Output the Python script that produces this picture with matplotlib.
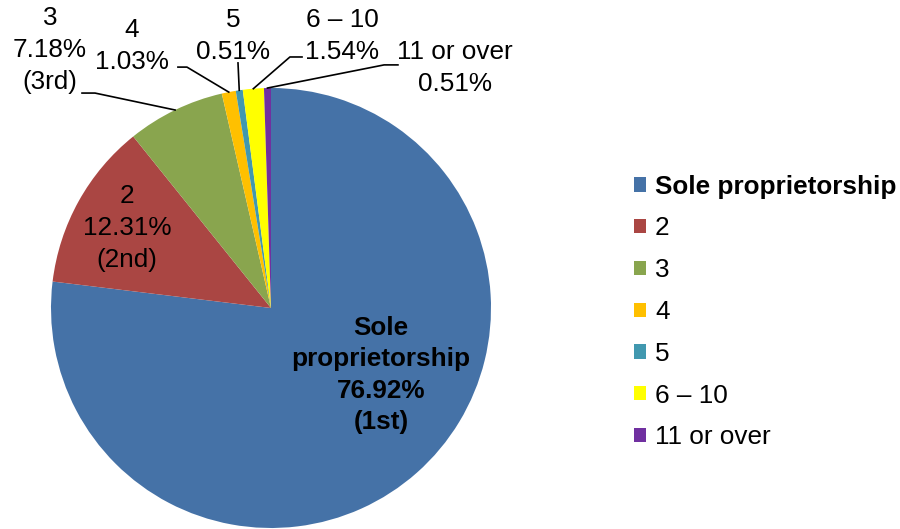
import numpy as np
import matplotlib.pyplot as plt

plt.rcParams['font.family'] = ['Liberation Sans', 'DejaVu Sans']

categories = ["Sole proprietorship", "2", "3", "4", "5", "6 \u2013 10", "11 or over"]
shares = [76.92, 12.31, 7.18, 1.03, 0.51, 1.54, 0.51]
rank_notes = ["(1st)", "(2nd)", "(3rd)", "", "", "", ""]
colors = ["#4572A7", "#AA4643", "#89A54E", "#FFC000", "#4198AF", "#FFFF00", "#7030A0"]

FS = 18.8
LS = 1.4

fig = plt.figure(figsize=(9, 5.29), dpi=100)
# pie centre at (271, 308) px, radius 220 px
ax = fig.add_axes([51 / 900, (529 - 308 - 220) / 529, 440 / 900, 440 / 529])

wedges, _ = ax.pie(shares, colors=colors, startangle=90, counterclock=False,
                   radius=1, wedgeprops=dict(linewidth=0))
ax.set_xlim(-1, 1)
ax.set_ylim(-1, 1)
ax.set_aspect('equal')
ax.axis('off')


def label_text(i):
    lines = [categories[i], f"{shares[i]:.2f}%"]
    if rank_notes[i]:
        lines.append(rank_notes[i])
    return "\n".join(lines)


# inside labels
ax.text(-0.655, 0.364, label_text(1), ha='center', va='center', fontsize=FS,
        linespacing=LS)
ax.text(0.5, -0.305, "Sole\nproprietorship\n76.92%\n(1st)", ha='center', va='center',
        fontsize=FS, fontweight='bold', linespacing=LS)

# outside labels: text centre, leader start, leader elbow
outside = {
    2: ((-1.005, 1.173), (-0.859, 0.977), (-0.80, 0.977)),
    3: ((-0.632, 1.190), (-0.423, 1.095), (-0.382, 1.095)),
    4: ((-0.173, 1.236), (-0.150, 1.114), (-0.150, 1.114)),
    5: ((0.323, 1.236), (0.141, 1.141), (0.086, 1.141)),
    6: ((0.836, 1.091), (0.577, 1.105), (0.514, 1.105)),
}
for i, (pos, start, elbow) in outside.items():
    ax.text(pos[0], pos[1], label_text(i), ha='center', va='center', fontsize=FS,
            linespacing=LS, clip_on=False)
    w = wedges[i]
    mid = np.deg2rad((w.theta1 + w.theta2) / 2)
    edge = (np.cos(mid), np.sin(mid))
    ax.plot([start[0], elbow[0], edge[0]], [start[1], elbow[1], edge[1]],
            color='black', lw=1.2, clip_on=False)

leg = fig.legend(wedges, categories, loc='center left',
                 bbox_to_anchor=(634 / 900, 1 - 312 / 529), frameon=False,
                 fontsize=FS, handlelength=0.46, handleheight=0.46,
                 handletextpad=0.34, labelspacing=0.68, borderpad=0,
                 borderaxespad=0)
leg.get_texts()[0].set_fontweight('bold')

fig.savefig("out.png", dpi=100)
